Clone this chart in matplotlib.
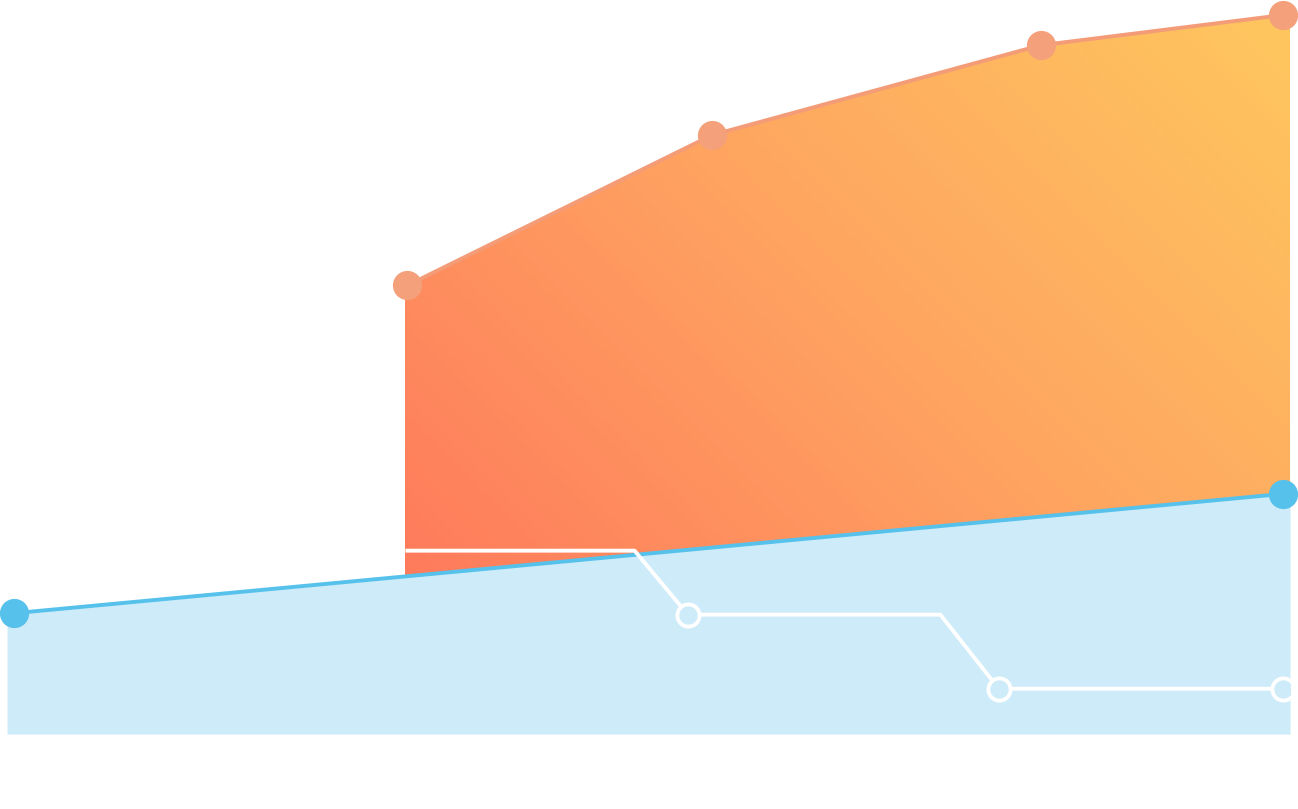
import numpy as np
import matplotlib.pyplot as plt
from matplotlib.colors import LinearSegmentedColormap
from matplotlib.patches import Rectangle

# data (x in % of the period, y in % of the max)
blue_x = [0, 100]
blue_y = [16.8, 33.4]

orange_x = [31.0, 55.0, 80.9, 100]
orange_y = [62.4, 83.3, 95.8, 100]

white_x = [31.0, 48.9, 53.1, 73.0, 77.6, 100]
white_y = [25.5, 25.5, 16.6, 16.6, 6.3, 6.3]
white_marks = [2, 4, 5]

blue_line = '#56c1eb'
blue_fill = '#cdebf8'
orange_line = '#f39c77'
orange_dot = '#f4a07b'

fig = plt.figure(figsize=(12.98, 8.09), dpi=100)

# areas sit on a slightly wider scale than the lines
area_ax = fig.add_axes([0, 0, 1, 1])
line_ax = fig.add_axes([0, 0, 1, 1])
for ax in (area_ax, line_ax):
    ax.set_ylim(-10.43, 102.09)
    ax.axis('off')
    ax.patch.set_alpha(0)
area_ax.set_xlim(-0.55, 100.62)
line_ax.set_xlim(-1.103, 101.18)

# blue area
area_ax.fill_between(blue_x, 0, blue_y, color=blue_fill, lw=0, zorder=1)

# orange area with diagonal gradient (45 degrees on screen)
ox = np.array(orange_x)
oy = np.array(orange_y)
base = np.interp(ox, blue_x, blue_y)
poly = area_ax.fill_between(ox, base, oy, color='none', lw=0, zorder=2)
cmap = LinearSegmentedColormap.from_list('warm', ['#ff7b5c', '#fea461', '#fec75e'])
w_px, h_px = 885, 560
gx, gy = np.meshgrid(np.linspace(0, 1, 300), np.linspace(0, 1, 300))
grad = (gx * w_px + gy * h_px) / (w_px + h_px)
x0, x1 = ox.min(), ox.max()
y0, y1 = base.min(), oy.max()
img = area_ax.imshow(grad, cmap=cmap, origin='lower', extent=[x0, x1, y0, y1],
                     aspect='auto', zorder=2, interpolation='bilinear')
img.set_clip_path(poly.get_paths()[0], transform=area_ax.transData)
area_ax.set_xlim(-0.55, 100.62)
area_ax.set_ylim(-10.43, 102.09)

# lines
line_ax.plot(blue_x, blue_y, color=blue_line, lw=2.8, zorder=3,
             solid_capstyle='butt')

clip = Rectangle((-0.55, -10.43), 100.55, 120, transform=area_ax.transData)
wl, = line_ax.plot(white_x, white_y, color='white', lw=2.8, zorder=4,
                   marker='o', markevery=white_marks, markersize=16,
                   markerfacecolor=blue_fill, markeredgecolor='white',
                   markeredgewidth=2.8)
wl.set_clip_path(clip)

line_ax.plot(orange_x, orange_y, color=orange_line, lw=2.8, zorder=5,
             clip_on=False)
line_ax.plot(orange_x, orange_y, 'o', color=orange_dot, markersize=20,
             zorder=6, clip_on=False)
line_ax.plot(blue_x, blue_y, 'o', color=blue_line, markersize=20,
             zorder=6, clip_on=False)

fig.savefig('out.png', dpi=100)
